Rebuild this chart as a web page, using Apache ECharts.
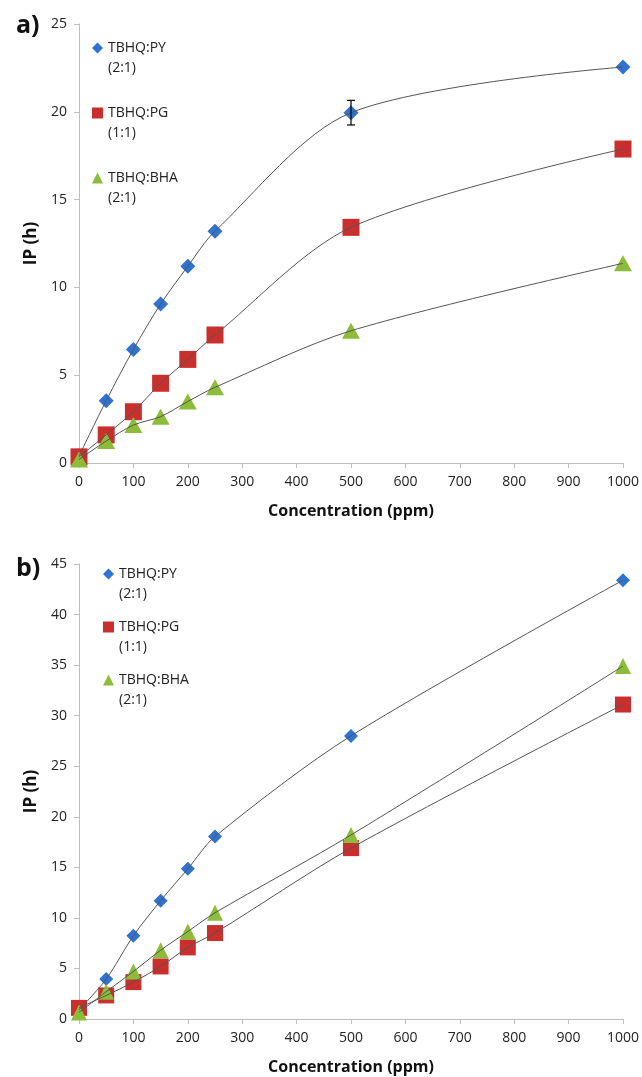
<!DOCTYPE html>
<html>
<head>
<meta charset="utf-8">
<script src="https://cdn.jsdelivr.net/npm/echarts@6/dist/echarts.min.js"></script>
<style>
  html, body { margin: 0; padding: 0; background: #fff; }
  #chart { width: 642px; height: 1077px; }
</style>
</head>
<body>
<div id="chart"></div>
<script>
// concentrations (ppm), shared by both panels
const conc = [0, 50, 100, 150, 200, 250, 500, 1000];

// panel a)
const ipPY_a = [0.4, 3.55, 6.47, 9.05, 11.2, 13.2, 19.95, 22.55];
const ipPG_a = [0.35, 1.6, 2.92, 4.54, 5.9, 7.29, 13.42, 17.88];
const ipBHA_a = [0.2, 1.25, 2.16, 2.64, 3.5, 4.31, 7.53, 11.37];
const errPY_a = [[500, 19.95, 0.7]]; // x, y, +/- error

// panel b)
const ipPY_b = [0.9, 3.95, 8.23, 11.7, 14.85, 18.05, 28.0, 43.4];
const ipPG_b = [1.1, 2.33, 3.65, 5.2, 7.08, 8.5, 16.9, 31.1];
const ipBHA_b = [0.65, 2.7, 4.7, 6.8, 8.65, 10.5, 18.2, 34.9];

const names = ['TBHQ:PY (2:1)', 'TBHQ:PG (1:1)', 'TBHQ:BHA (2:1)'];
const xTicks = { min: 0, max: 1000, interval: 100 };
const yTicksA = { min: 0, max: 25, interval: 5 };
const yTicksB = { min: 0, max: 45, interval: 5 };

const colors = { PY: '#2f72cf', PG: '#c9302d', BHA: '#8dbb3a' };
const FONT = 'Open Sans';
const pair = ys => conc.map((x, i) => [x, ys[i]]);

const nameStyle = { fontFamily: FONT, fontWeight: 'bold', fontSize: 16, color: '#111' };
const labelStyle = { fontFamily: FONT, fontSize: 14, color: '#222', formatter: v => String(v) };
const axisGrey = { show: true, lineStyle: { color: '#bdbdbd' } };

function xAxisFor(grid) {
  return {
    type: 'value', gridIndex: grid, ...xTicks,
    name: 'Concentration (ppm)', nameLocation: 'middle', nameGap: 40,
    nameTextStyle: nameStyle,
    axisLine: axisGrey,
    axisTick: { show: true, length: 5, lineStyle: { color: '#bdbdbd' } },
    axisLabel: { ...labelStyle, margin: 12 },
    splitLine: { show: false }
  };
}
function yAxisFor(grid, ticks) {
  return {
    type: 'value', gridIndex: grid, ...ticks,
    name: 'IP (h)', nameLocation: 'middle', nameGap: 38, nameRotate: 90,
    nameTextStyle: { ...nameStyle, fontSize: 17 },
    axisLine: axisGrey,
    axisTick: { show: true, length: 5, lineStyle: { color: '#bdbdbd' } },
    axisLabel: { ...labelStyle, margin: 12 },
    splitLine: { show: false }
  };
}

function panelSeries(idx, py, pg, bha, sizes) {
  const sets = [
    [names[0], py, 'diamond', colors.PY, sizes[0]],
    [names[1], pg, 'rect', colors.PG, sizes[1]],
    [names[2], bha, 'triangle', colors.BHA, sizes[2]]
  ];
  const out = [];
  sets.forEach(([name, ys, sym, col, size]) => {
    out.push({
      name, type: 'scatter', xAxisIndex: idx, yAxisIndex: idx,
      symbol: sym, symbolSize: size, itemStyle: { color: col, opacity: 1 },
      data: pair(ys), z: 2
    });
  });
  // trend curves through the same points, drawn above the markers
  sets.forEach(([name, ys]) => {
    out.push({
      name: name + ' trend', type: 'line', xAxisIndex: idx, yAxisIndex: idx,
      data: pair(ys), smooth: 0.3, showSymbol: false, silent: true,
      lineStyle: { color: '#555', width: 1 }, z: 3
    });
  });
  return out;
}

function legendFor(left, top, gap) {
  return {
    left, top, orient: 'vertical', padding: 0, itemGap: gap,
    itemWidth: 11, itemHeight: 11,
    data: [
      { name: names[0], icon: 'diamond' },
      { name: names[1], icon: 'rect' },
      { name: names[2], icon: 'triangle' }
    ],
    formatter: n => ' \n' + n.replace(' ', '\n'),
    textStyle: { fontFamily: FONT, fontSize: 14, color: '#222', lineHeight: 20 }
  };
}

const chart = echarts.init(document.getElementById('chart'));
chart.setOption({
  animation: false,
  backgroundColor: '#fff',
  grid: [
    { left: 79, right: 18, top: 24, height: 439 },
    { left: 79, right: 18, top: 564, height: 455 }
  ],
  xAxis: [xAxisFor(0), xAxisFor(1)],
  yAxis: [yAxisFor(0, yTicksA), yAxisFor(1, yTicksB)],
  legend: [legendFor(92, 18, 5), legendFor(103, 544, -7)],
  graphic: [
    { type: 'text', left: 16, top: 13, style: { text: 'a)', font: 'bold 25px "Open Sans"', fill: '#111' } },
    { type: 'text', left: 16, top: 556, style: { text: 'b)', font: 'bold 25px "Open Sans"', fill: '#111' } }
  ],
  series: [
    ...panelSeries(0, ipPY_a, ipPG_a, ipBHA_a, [15, 17, [18, 16]]),
    ...panelSeries(1, ipPY_b, ipPG_b, ipBHA_b, [14, 16, [16, 16]]),
    {
      name: 'error', type: 'custom', xAxisIndex: 0, yAxisIndex: 0, z: 4, silent: true,
      data: errPY_a,
      renderItem: (params, api) => {
        const x = api.value(0), y = api.value(1), e = api.value(2);
        const hi = api.coord([x, y + e]), lo = api.coord([x, y - e]);
        const w = 4;
        const style = { stroke: '#111', lineWidth: 1.3 };
        return {
          type: 'group',
          children: [
            { type: 'line', shape: { x1: hi[0], y1: hi[1], x2: lo[0], y2: lo[1] }, style },
            { type: 'line', shape: { x1: hi[0] - w, y1: hi[1], x2: hi[0] + w, y2: hi[1] }, style },
            { type: 'line', shape: { x1: lo[0] - w, y1: lo[1], x2: lo[0] + w, y2: lo[1] }, style }
          ]
        };
      }
    }
  ]
});
window.addEventListener('resize', () => chart.resize());
</script>
</body>
</html>
